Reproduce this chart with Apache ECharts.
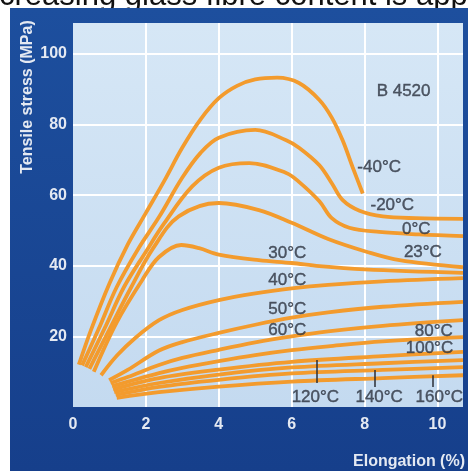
<!DOCTYPE html>
<html>
<head>
<meta charset="utf-8">
<script src="https://cdn.jsdelivr.net/npm/echarts@6/dist/echarts.min.js"></script>
<style>
html, body { margin: 0; padding: 0; background: #fff; }
#main { width: 468px; height: 471px; }
</style>
</head>
<body>
<div id="main"></div>
<script>
// tensile stress (MPa) vs elongation (%), B 4520, one curve per temperature
const temps = ['-40°C', '-20°C', '0°C', '23°C', '30°C', '40°C', '50°C', '60°C', '80°C', '100°C', '120°C', '140°C', '160°C'];

const cM40 = [[0.16,12],[0.5,22],[1,35],[1.5,46],[2,55],[2.5,64],[3,73.5],[3.5,81.5],[4,87.5],[4.5,91],[5,92.8],[5.6,93.3],[6.2,91.8],[6.76,87],[7.1,82],[7.4,75.5],[7.67,68],[7.95,60.5]];
const cM20 = [[0.25,11.8],[0.7,22],[1.2,34],[1.8,45],[2.36,53.8],[3,65],[3.5,72],[4,76.3],[5,78.5],[5.85,75.6],[6.21,73.4],[6.76,68.5],[7.1,63.4],[7.4,58.6],[7.86,55.6],[8.5,54],[9.4,53.5],[10.7,53.3]];
const c0 = [[0.35,11.3],[0.9,23],[1.4,34],[2,44],[2.5,52],[3.27,62.5],[4,67.8],[4.84,69.1],[5.85,66.3],[6.2,63.8],[6.76,58.3],[7.1,53.5],[7.58,50.8],[8.4,49.6],[9.5,48.9],[10.7,48.4]];
const c23 = [[0.45,10.8],[1,22],[1.6,34],[2.2,45],[2.9,54],[4,57.8],[5.1,55.8],[6,52.2],[7,47.6],[8.05,44],[8.96,41.6],[10.7,39.6]];
const c30 = [[0.57,10],[1.2,24],[1.9,36],[2.36,42.5],[2.97,45.9],[3.46,45],[4,43.2],[5.1,41.6],[6,40.8],[6.76,39.9],[8,39],[10.7,38]];
const c40 = [[0.77,9],[1.2,14.5],[1.7,19.5],[2.36,24.6],[3,27.5],[4,30.3],[5,32.2],[6,33.6],[7,34.6],[8.5,35.6],[10.7,36.5]];
const c50 = [[0.99,7.6],[1.5,10.5],[2.36,16],[3,18.4],[4,21],[5,23.3],[6,25.3],[7,26.8],[8.5,28.4],[10.7,29.8]];
const c60 = [[1.03,6.8],[1.5,8.5],[2.36,11.9],[3,13.9],[4,16.2],[5,18.3],[6,20],[7,21.4],[8.5,23],[10.7,24.6]];
const c80 = [[1.07,5.9],[2.36,9.6],[3,11.1],[4,13],[5,14.7],[6,16.1],[7,17.2],[8.5,18.6],[10.7,19.8]];
const c100 = [[1.1,5],[2.36,8.2],[4,10.6],[6,12.8],[8.5,14.4],[10.7,15.6]];
const c120 = [[1.13,4.2],[2.36,6.8],[4,9.2],[6,11.2],[8.5,12.4],[10.7,13.3]];
const c140 = [[1.17,3.4],[2.36,5.7],[4,7.7],[6,9.5],[8.5,10.5],[10.7,11.3]];
const c160 = [[1.2,2.6],[2.36,4.2],[4,5.8],[6,7.2],[8.5,8.2],[10.7,9]];
const curves = [cM40, cM20, c0, c23, c30, c40, c50, c60, c80, c100, c120, c140, c160];

// curve labels: [x, y, text]
const curveLabels = [
  [9.07, 89.5, 'B 4520'],
  [8.4, 68, '-40°C'],
  [8.76, 57.2, '-20°C'],
  [9.42, 50.4, '0°C'],
  [9.6, 43.9, '23°C'],
  [5.88, 43.6, '30°C'],
  [5.88, 36, '40°C'],
  [5.88, 27.8, '50°C'],
  [5.88, 21.8, '60°C'],
  [9.9, 21.5, '80°C'],
  [9.78, 16.7, '100°C'],
  [6.65, 2.8, '120°C'],
  [8.4, 2.8, '140°C'],
  [10.05, 2.8, '160°C']
];
// leader ticks under the lowest labels: [x, yTop, yBottom]
const leaders = [[6.68, 13.3, 6.8], [8.27, 10.5, 5.7], [9.86, 9, 5.7]];

const FONT = '"Liberation Sans", Arial, sans-serif';
const ORANGE = '#f39b2d';

const series = curves.map((pts, i) => ({
  name: temps[i],
  type: 'line',
  data: pts,
  smooth: 0.35,
  showSymbol: false,
  lineStyle: { color: ORANGE, width: 3.8 },
  z: 3
}));

series.push({
  type: 'scatter',
  data: curveLabels,
  symbolSize: 1,
  itemStyle: { color: 'rgba(0,0,0,0)' },
  silent: true,
  z: 5,
  label: {
    show: true,
    position: 'inside',
    formatter: p => p.data[2],
    color: '#2e3441',
    fontSize: 17,
    fontFamily: FONT,
    textBorderColor: '#2e3441',
    textBorderWidth: 0.4
  },
  markLine: {
    silent: true,
    symbol: ['none', 'none'],
    label: { show: false },
    lineStyle: { color: '#2a2e36', width: 1.5, type: 'solid' },
    data: leaders.map(l => [{ coord: [l[0], l[1]] }, { coord: [l[0], l[2]] }])
  }
});

const chart = echarts.init(document.getElementById('main'));
chart.setOption({
  animation: false,
  backgroundColor: '#fff',
  grid: {
    left: 73, right: 5, top: 23, bottom: 64,
    show: true, borderWidth: 0,
    backgroundColor: new echarts.graphic.LinearGradient(0, 0, 0, 1, [
      { offset: 0, color: '#d6e7f6' },
      { offset: 1, color: '#c4daf0' }
    ])
  },
  xAxis: {
    type: 'value', min: 0, max: 10.7, interval: 2,
    axisLine: { show: false }, axisTick: { show: false },
    axisLabel: { color: '#e4e9f2', fontSize: 16, fontWeight: 'bold', fontFamily: FONT, margin: 10, showMaxLabel: false },
    splitLine: { show: true, showMinLine: false, showMaxLine: false, lineStyle: { color: '#ffffff', width: 2 } }
  },
  yAxis: {
    type: 'value', min: 0, max: 108.8, interval: 20,
    axisLine: { show: false }, axisTick: { show: false },
    axisLabel: { color: '#e4e9f2', fontSize: 16, fontWeight: 'bold', fontFamily: FONT, margin: 6, showMinLabel: false, showMaxLabel: false },
    splitLine: { show: true, showMinLine: false, showMaxLine: false, lineStyle: { color: '#ffffff', width: 2 } }
  },
  graphic: [
    {
      type: 'text', x: -1, y: 12, z: -20,
      style: { text: 'creasing glass fibre content is app', font: '31px ' + FONT, fill: '#111', align: 'left', verticalAlign: 'bottom' }
    },
    {
      type: 'rect', left: 10, top: 8, z: -10,
      shape: { width: 458, height: 463 },
      style: {
        fill: new echarts.graphic.LinearGradient(0, 0, 0, 1, [
          { offset: 0, color: '#1d4f9e' },
          { offset: 1, color: '#163f8b' }
        ])
      }
    },
    {
      type: 'text', x: 28, y: 97, rotation: Math.PI / 2, z: 10,
      style: { text: 'Tensile stress (MPa)', font: 'bold 16px ' + FONT, fill: '#e4e9f2', align: 'center', verticalAlign: 'middle' }
    },
    {
      type: 'text', x: 465, y: 462, z: 10,
      style: { text: 'Elongation (%)', font: 'bold 16px ' + FONT, fill: '#e4e9f2', align: 'right', verticalAlign: 'middle' }
    }
  ],
  series: series
});
</script>
</body>
</html>
